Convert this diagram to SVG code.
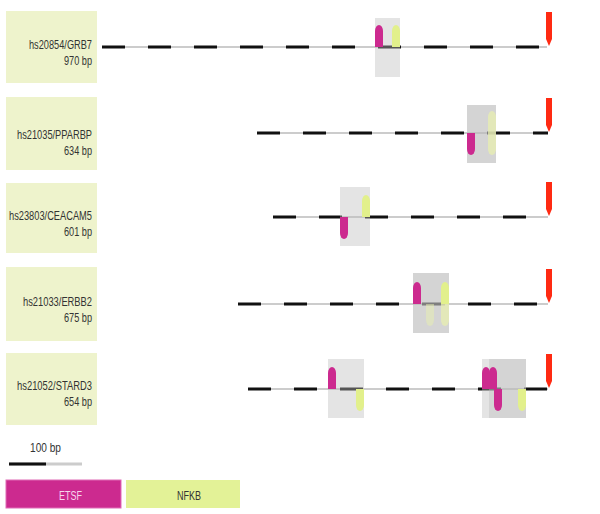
<svg xmlns="http://www.w3.org/2000/svg" width="600" height="514" viewBox="0 0 600 514">
<style>
.lbl{fill:#EEF3CC}
.t{font-family:"Liberation Sans",Arial,sans-serif;font-size:13px;fill:#333;text-anchor:end}
.base{stroke:#CCCCCC;stroke-width:2;fill:none}
.dash{stroke:#111;stroke-width:3;stroke-dasharray:23 23;fill:none}
.box{fill:#BBBBBB;fill-opacity:0.4}
.et{fill:#CC2A8F}
.nf{fill:#E2F08C}
.fade{fill:#E8EFB0;opacity:0.75}
.tss{fill:#FF2A12}
</style>
<defs>
<path id="up" d="M0,0 V-16 A4,6 0 0 1 8,-16 V0 Z"/>
<path id="dn" d="M0,0 V16 A4,6 0 0 0 8,16 V0 Z"/>
<polygon id="tss" points="-2,-35 4,-35 4,-8 1,-1 -2,-8"/>
</defs>

<g id="row1">
<rect class="lbl" x="6" y="11" width="91" height="72"/>
<text class="t" x="92" y="49" textLength="63" lengthAdjust="spacingAndGlyphs">hs20854/GRB7</text>
<text class="t" x="92" y="64.5" textLength="28" lengthAdjust="spacingAndGlyphs">970 bp</text>
</g>
<g id="row2">
<rect class="lbl" x="6" y="97" width="91" height="73"/>
<text class="t" x="92" y="139" textLength="75" lengthAdjust="spacingAndGlyphs">hs21035/PPARBP</text>
<text class="t" x="92" y="154.5" textLength="28" lengthAdjust="spacingAndGlyphs">634 bp</text>
</g>
<g id="row3">
<rect class="lbl" x="6" y="183" width="91" height="70"/>
<text class="t" x="92" y="220" textLength="83" lengthAdjust="spacingAndGlyphs">hs23803/CEACAM5</text>
<text class="t" x="92" y="235.5" textLength="28" lengthAdjust="spacingAndGlyphs">601 bp</text>
</g>
<g id="row4">
<rect class="lbl" x="6" y="267" width="91" height="74"/>
<text class="t" x="92" y="306" textLength="69" lengthAdjust="spacingAndGlyphs">hs21033/ERBB2</text>
<text class="t" x="92" y="321.5" textLength="28" lengthAdjust="spacingAndGlyphs">675 bp</text>
</g>
<g id="row5">
<rect class="lbl" x="6" y="353" width="91" height="72"/>
<text class="t" x="92" y="390" textLength="75" lengthAdjust="spacingAndGlyphs">hs21052/STARD3</text>
<text class="t" x="92" y="405.5" textLength="28" lengthAdjust="spacingAndGlyphs">654 bp</text>
</g>

<g id="connectors">
<line class="base" x1="102" y1="47" x2="547" y2="47"/>
<line class="dash" x1="102" y1="47" x2="547" y2="47"/>
<line class="base" x1="257" y1="133" x2="548" y2="133"/>
<line class="dash" x1="257" y1="133" x2="548" y2="133"/>
<line class="base" x1="273" y1="217" x2="548" y2="217"/>
<line class="dash" x1="273" y1="217" x2="548" y2="217"/>
<line class="base" x1="238" y1="304" x2="548" y2="304"/>
<line class="dash" x1="238" y1="304" x2="548" y2="304"/>
<line class="base" x1="248" y1="389" x2="548" y2="389"/>
<line class="dash" x1="248" y1="389" x2="548" y2="389"/>
</g>

<g id="motifs1">
<rect class="box" x="375" y="18" width="25" height="59"/>
<use href="#up" class="et" x="375" y="47"/>
<use href="#up" class="nf" x="392" y="47"/>
<use href="#tss" class="tss" x="548" y="47"/>
</g>
<g id="motifs2">
<rect class="box" x="467" y="105" width="29" height="58"/>
<rect class="box" x="467" y="105" width="29" height="58" fill-opacity="0.1"/>
<use href="#up" class="fade" x="488" y="133"/>
<use href="#dn" class="fade" x="488" y="133"/>
<use href="#dn" class="et" x="467" y="133"/>
<use href="#tss" class="tss" x="548" y="133"/>
</g>
<g id="motifs3">
<rect class="box" x="340" y="187" width="30" height="59"/>
<use href="#dn" class="et" x="340" y="217"/>
<use href="#up" class="nf" x="362" y="217"/>
<use href="#tss" class="tss" x="548" y="217"/>
</g>
<g id="motifs4">
<rect class="box" x="413" y="273" width="36" height="60"/>
<rect class="box" x="413" y="273" width="36" height="60" fill-opacity="0.15"/>
<use href="#dn" class="fade" x="426" y="304" style="opacity:0.5"/>
<use href="#dn" class="fade" x="441" y="304"/>
<use href="#up" class="et" x="413" y="304"/>
<use href="#up" class="nf" x="441" y="304"/>
<use href="#tss" class="tss" x="548" y="304"/>
</g>
<g id="motifs5">
<rect class="box" x="328" y="359" width="36" height="59"/>
<use href="#up" class="et" x="328" y="389"/>
<use href="#dn" class="nf" x="356" y="389"/>
<rect class="box" x="482" y="359" width="44" height="59"/>
<rect class="box" x="489" y="359" width="37" height="59" fill-opacity="0.15"/>
<use href="#up" class="et" x="482" y="389"/>
<use href="#up" class="et" x="489" y="389"/>
<use href="#dn" class="et" x="494" y="389"/>
<use href="#dn" class="nf" x="518" y="389"/>
<use href="#tss" class="tss" x="548" y="389"/>
</g>

<g id="legend">
<text class="t" x="61" y="452" textLength="31" lengthAdjust="spacingAndGlyphs">100 bp</text>
<line x1="9" y1="464" x2="82" y2="464" stroke="#CCCCCC" stroke-width="3"/>
<line x1="9" y1="464" x2="46" y2="464" stroke="#111" stroke-width="3"/>
<rect x="6" y="480" width="115" height="28" fill="#CC2A8F" stroke="#E06BB6" stroke-width="1"/>
<text class="t" x="82" y="500" textLength="23" lengthAdjust="spacingAndGlyphs" style="fill:#F6D6EC">ETSF</text>
<rect x="126" y="480" width="114" height="28" fill="#E3F297"/>
<text class="t" x="201" y="500" textLength="24" lengthAdjust="spacingAndGlyphs">NFKB</text>
</g>
</svg>
